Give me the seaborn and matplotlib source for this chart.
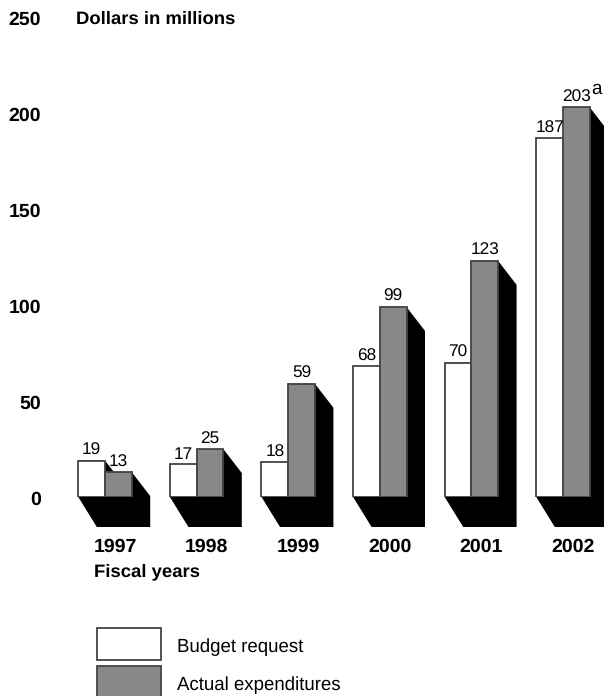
import matplotlib
matplotlib.use("Agg")
import matplotlib.pyplot as plt
from matplotlib.patches import Polygon
from matplotlib.transforms import ScaledTranslation
import pandas as pd
import seaborn as sns

years = ["1997", "1998", "1999", "2000", "2001", "2002"]
budget = [19, 17, 18, 68, 70, 187]
actual = [13, 25, 59, 99, 123, 203]
series_names = ["Budget request", "Actual expenditures"]
y_ticks = [0, 50, 100, 150, 200, 250]

W, H = 604, 696
plt.rcParams["font.family"] = ["Liberation Sans", "DejaVu Sans"]
plt.rcParams["text.hinting"] = "none"

df = pd.DataFrame({
    "year": years * 2,
    "series": [series_names[0]] * 6 + [series_names[1]] * 6,
    "value": budget + actual,
})

fig = plt.figure(figsize=(W / 100, H / 100), dpi=100)
# axes spans the plot region in pixels: left 60, right 604, y=0 at 497, y=250 at 17
ax = fig.add_axes([60 / W, 1 - 497 / H, 544 / W, 480 / H])

EDGE = "#444444"
sns.barplot(data=df, x="year", y="value", hue="series", order=years,
            hue_order=series_names, dodge=True, width=0.583, gap=0,
            palette={series_names[0]: "white", series_names[1]: "#888888"},
            edgecolor=EDGE, linewidth=1.3, saturation=1, ax=ax, zorder=3)

ax.set_xlim(-45 / 91.6, 499 / 91.6)
ax.set_ylim(0, 250)

# black drop shadow behind each bar
dx = 18.5 / 91.6
drop_top = 24 / 1.92
drop_bottom = 30 / 1.92
for cont in ax.containers:
    for bar in cont:
        x0 = bar.get_x()
        x1 = x0 + bar.get_width()
        top = bar.get_height()
        ax.add_patch(Polygon([(x0, 0), (x0 + dx, -drop_bottom), (x1 + dx, -drop_bottom),
                              (x1 + dx, top - drop_top), (x1, top), (x0, top)],
                             closed=True, facecolor="black", edgecolor="none",
                             clip_on=False, zorder=1))

# value labels
for cont in ax.containers:
    ax.bar_label(cont, fmt="%d", padding=1.5, fontsize=12.4, color="black", zorder=5)
ax.annotate("a", xy=(5.146, 203), xytext=(14.5, 7), textcoords="offset points",
            fontsize=13.5, ha="center", va="bottom")

ax.set_xticks([i + 0.11 for i in range(len(years))], years)
ax.set_yticks(y_ticks)
ax.tick_params(axis="x", length=0, pad=29.5, labelsize=14)
ax.tick_params(axis="y", length=0, pad=13.5, labelsize=14)
for lab in ax.get_xticklabels():
    lab.set_fontweight("bold")
for lab in ax.get_yticklabels():
    lab.set_fontweight("bold")
    # labels sit a pixel below the tick position in the original
    lab.set_transform(lab.get_transform() + ScaledTranslation(0, -1 / 100, fig.dpi_scale_trans))
ax.set_xlabel("")
ax.set_ylabel("")
sns.despine(ax=ax, left=True, bottom=True, top=True, right=True)
ax.patch.set_alpha(0)

fig.text(76 / W, 1 - 19 / H, "Dollars in millions", fontsize=13.3, fontweight="bold", va="center")
fig.text(94 / W, 1 - 572 / H, "Fiscal years", fontsize=13.3, fontweight="bold", va="center")

leg = ax.legend(loc="upper left", bbox_to_anchor=(97 / W, 1 - 628 / H), bbox_transform=fig.transFigure,
                frameon=False, fontsize=13.4, title=None, borderpad=0, borderaxespad=0,
                handlelength=3.44, handleheight=2.27, labelspacing=0.32, handletextpad=0.86)
for txt in leg.get_texts():
    txt.set_position((0, -2))

fig.savefig("out.png", dpi=100, facecolor="white")
